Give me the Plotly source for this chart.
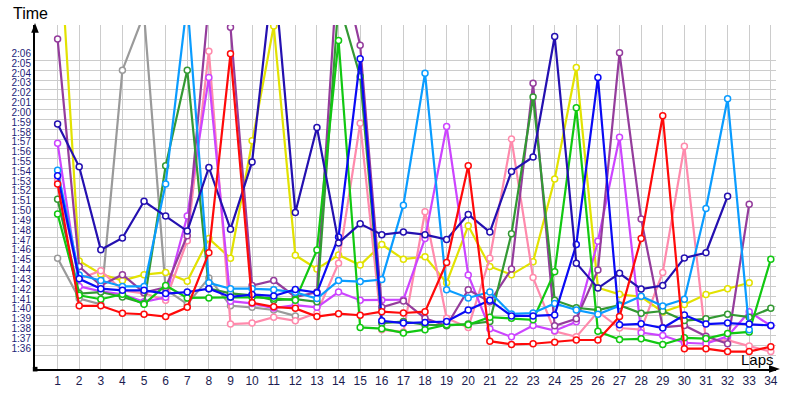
import plotly.graph_objects as go

laps = [1, 2, 3, 4, 5, 6, 7, 8, 9, 10, 11, 12, 13, 14, 15, 16, 17, 18, 19, 20,
        21, 22, 23, 24, 25, 26, 27, 28, 29, 30, 31, 32, 33, 34]

# lap times in seconds (None = no lap)
gray = [105.87, 101.77, 101.17, 125.0, 130.7, 102.7, 101.2, 103.87, 101.03, 100.87,
        100.6, 100.0] + [None] * 22
yellow = [142.0, 105.6, 104.27, 103.6, 104.2, 104.43, 103.53, 107.87, 105.87, 117.83,
          129.5, 106.17, 104.77, 106.2, 105.17, 107.27, 105.77, 106.03, 103.37, 109.17,
          105.03, 104.2, 105.5, 113.93, 125.27, 102.87, 102.2, 101.95, 100.4, 101.17,
          102.18, 102.77, 103.37, None]
pink = [113.8, 103.77, 104.6, 102.6, 102.3, 101.6, 107.65, 126.93, 99.17, 99.27,
        99.87, 99.5, 100.3, 105.37, 119.6, 98.6, 98.37, 110.6, 99.77, 98.83,
        105.87, 118.0, 103.9, 98.43, 97.87, 100.43, 98.77, 98.6, 104.43, 117.27,
        97.43, 97.53, 96.93, 96.37]
violet = [117.57, 103.0, 102.5, 102.2, 101.43, 101.9, 110.17, 124.27, 101.5, 101.27,
          100.8, 101.1, 100.87, 102.43, 101.6, 101.6, 101.65, 107.87, 119.27, 104.17,
          98.7, 97.87, 99.03, 98.5, 99.4, 107.6, 118.17, 98.3, 98.0, 97.27,
          97.17, 97.93, 100.43, 99.0]
purple = [128.17, 105.03, 103.1, 104.2, 102.37, 102.9, 108.17, 132.0, 129.37, 103.1,
          103.6, 101.93, 102.43, 137.0, 127.53, 100.87, 101.53, 99.77, 99.0, 102.67,
          101.43, 104.77, 123.67, 99.0, 99.7, 104.67, 126.77, 109.87, 98.83, 99.03,
          97.93, 97.17, 111.37, None]
dark_green = [111.87, 102.27, 102.43, 101.93, 101.27, 115.27, 125.0, 102.77, 102.3, 102.1,
              101.6, 101.7, 101.43, 132.0, 124.37, 99.27, 99.43, 99.1, 99.03, 99.17,
              99.43, 108.37, 122.27, 101.6, 100.83, 100.6, 101.1, 100.27, 100.5, 99.53,
              99.7, 100.17, 99.87, 100.77]
green = [110.37, 102.1, 101.7, 102.2, 101.2, 103.1, 101.83, 101.83, 101.9, 101.9,
         101.8, 101.6, 106.7, 128.03, 98.83, 98.7, 98.27, 98.6, 99.1, 99.1,
         99.87, 99.77, 99.6, 104.5, 121.17, 98.43, 97.6, 97.67, 97.1, 97.77,
         97.7, 98.2, 98.37, 105.77]
light_blue = [114.83, 104.17, 103.6, 103.0, 103.0, 113.43, 132.0, 103.37, 102.77, 102.77,
              102.67, 102.4, 101.77, 103.6, 103.5, 103.7, 111.27, 124.7, 102.67, 101.83,
              102.43, 100.2, 100.3, 101.27, 100.6, 100.17, 101.03, 102.0, 101.0, 101.7,
              110.93, 122.1, 98.6, None]
blue = [114.27, 103.77, 102.77, 102.6, 102.6, 102.27, 102.43, 102.77, 101.93, 102.17,
        102.03, 102.7, 102.37, 108.03, 126.17, 99.5, 99.27, 99.33, 99.43, 100.6,
        101.6, 100.0, 100.0, 100.1, 107.27, 124.27, 99.1, 99.2, 98.77, 100.1,
        99.17, 99.27, 99.17, 99.03]
navy = [119.53, 115.17, 106.73, 107.93, 111.67, 110.17, 108.63, 115.1, 108.83, 115.67,
        135.5, 110.53, 119.17, 107.43, 109.37, 108.27, 108.53, 108.27, 107.77, 110.33,
        108.53, 114.7, 116.17, 128.43, 105.37, 102.83, 104.33, 102.73, 103.1, 105.9,
        106.43, 112.17, None, None]
red = [113.43, 101.03, 101.03, 100.27, 100.17, 99.93, 100.87, 106.43, 126.67, 101.33,
       100.93, 100.77, 99.93, 100.23, 100.07, 100.43, 100.3, 100.43, 105.43, 115.27,
       97.43, 97.1, 97.17, 97.33, 97.55, 97.55, 99.93, 107.87, 120.37, 96.67,
       96.67, 96.37, 96.37, 96.87]

y_tick_values = [96, 97, 98, 99, 100, 101, 102, 103, 104, 105, 106, 107, 108, 109, 110,
                 111, 112, 113, 114, 115, 116, 117, 118, 119, 120, 121, 122, 123, 124, 125, 126]
y_tick_labels = ["1:36", "1:37", "1:38", "1:39", "1:40", "1:41", "1:42", "1:43", "1:44",
                 "1:45", "1:46", "1:47", "1:48", "1:49", "1:50", "1:51", "1:52", "1:53",
                 "1:54", "1:55", "1:56", "1:57", "1:58", "1:59", "2:00", "2:01", "2:02",
                 "2:03", "2:04", "2:05", "2:06"]
x_tick_labels = [str(v) for v in laps]

series = [
    (gray, "#9a9a9a"),
    (yellow, "#e2e200"),
    (pink, "#ff8aac"),
    (violet, "#cc44ff"),
    (purple, "#943c9c"),
    (dark_green, "#339933"),
    (green, "#11c811"),
    (light_blue, "#0a9cff"),
    (blue, "#0a0af5"),
    (navy, "#2410b0"),
    (red, "#ff0a0a"),
]

fig = go.Figure()
for vals, col in series:
    fig.add_trace(go.Scatter(
        x=laps, y=vals, mode="lines+markers",
        line=dict(color=col, width=2.2),
        marker=dict(symbol="circle", size=6, color="white",
                    line=dict(color=col, width=1.5)),
        connectgaps=False, showlegend=False, hoverinfo="skip",
        cliponaxis=True,
    ))

W, H = 800, 400
L, R, T, B = 30, 24, 25, 25
pw, ph = W - L - R, H - T - B


def px(xp):
    return (xp - L) / pw


def py(yp):
    return (H - B - yp) / ph


shapes = [
    # y-axis arrowhead
    dict(type="path", xref="paper", yref="paper",
         path=f"M {px(30)} {py(23)} L {px(26.2)} {py(33)} L {px(33.8)} {py(33)} Z",
         fillcolor="black", line=dict(width=0)),
    # x-axis arrowhead
    dict(type="path", xref="paper", yref="paper",
         path=f"M {px(780)} {py(375)} L {px(769)} {py(371.2)} L {px(769)} {py(378.8)} Z",
         fillcolor="black", line=dict(width=0)),
    # origin square
    dict(type="rect", xref="paper", yref="paper",
         x0=px(27.8), x1=px(32.5), y0=py(377.5), y1=py(372.8),
         fillcolor="black", line=dict(width=0)),
]

annotations = [
    dict(text="Time", xref="paper", yref="paper", x=px(6), y=py(13),
         xanchor="left", yanchor="middle", showarrow=False,
         font=dict(family="Liberation Sans, Arial", size=16, color="black")),
    dict(text="Laps", xref="paper", yref="paper", x=px(776), y=py(365),
         xanchor="right", yanchor="middle", showarrow=False,
         font=dict(family="Liberation Sans, Arial", size=15, color="black")),
]

fig.update_layout(
    width=W, height=H,
    margin=dict(l=L, r=R, t=T, b=B, pad=0),
    paper_bgcolor="white", plot_bgcolor="white",
    shapes=shapes, annotations=annotations,
    xaxis=dict(range=[-0.045, 34.24], tickmode="array", tickvals=laps,
               ticktext=x_tick_labels, showgrid=True, gridcolor="#cccccc",
               gridwidth=1, zeroline=False, showline=True, linecolor="black",
               linewidth=2, ticks="",
               tickfont=dict(family="Liberation Sans, Arial", size=12, color="#1c1c50")),
    yaxis=dict(range=[94.6, 129.6], tickmode="array", tickvals=y_tick_values,
               ticktext=y_tick_labels, showgrid=True, gridcolor="#cccccc",
               gridwidth=1, zeroline=False, showline=True, linecolor="black",
               linewidth=2, ticks="", ticklabelposition="outside top",
               tickfont=dict(family="Liberation Sans, Arial", size=10, color="#1e1e78")),
)

fig.write_html("out.html")
